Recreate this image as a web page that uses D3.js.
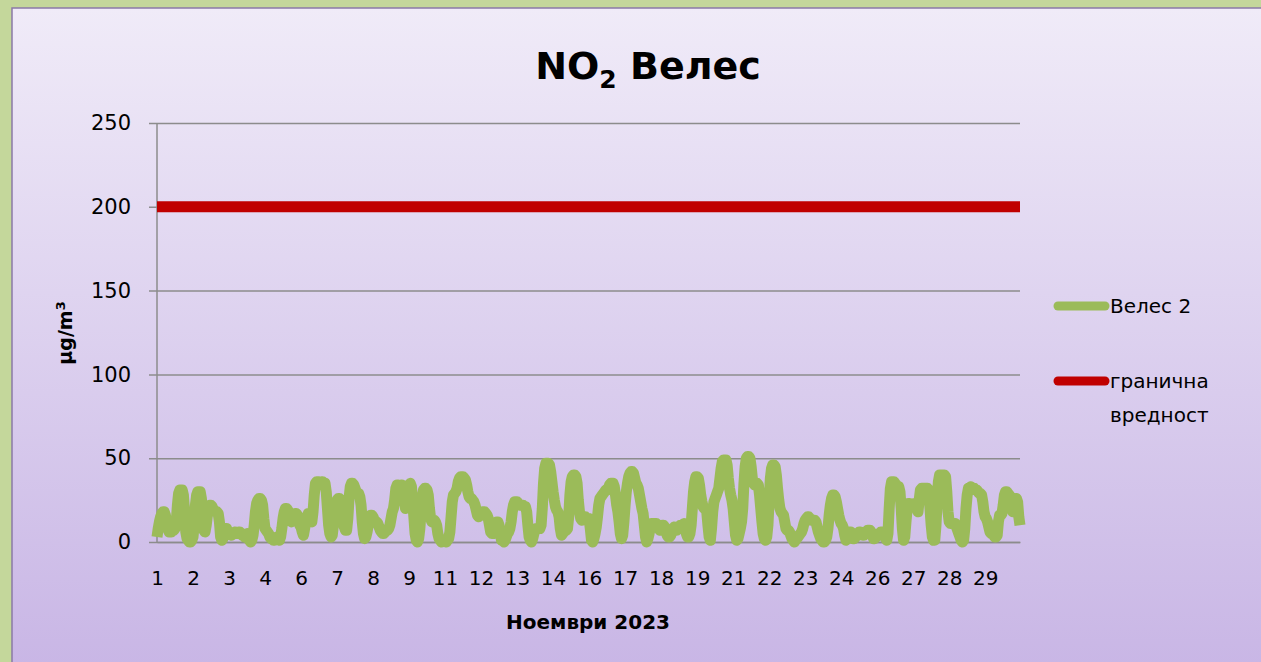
<!DOCTYPE html>
<html>
<head>
<meta charset="utf-8">
<script src="https://cdn.jsdelivr.net/npm/d3@7"></script>
<style>
  html, body { margin: 0; padding: 0; background: #c4d79b; }
  svg { display: block; }
  text { font-family: "Comic Sans MS", "DejaVu Sans", sans-serif; fill: #000; }
</style>
</head>
<body>
<svg id="chart" width="1261" height="662"></svg>
<script>
// hourly NO2, Велес 2, November 2023 (one row = one day, 24 hours)
var no2 = [
  3,8,12,15,17,18,18,16,12,8,6,6,6,7,7,8,12,22,29,31,31,31,28,18,
  6,2,1,0,0,1,3,10,22,28,30,30,30,26,15,7,6,10,16,20,22,22,21,19,
  19,18,18,17,12,3,1,2,6,8,8,6,5,5,4,5,5,6,5,5,6,6,5,4,
  4,3,4,5,3,1,0,1,4,10,18,23,25,26,26,25,22,14,8,7,6,5,3,2,
  2,1,1,2,3,2,1,3,8,14,18,20,20,19,16,14,12,13,15,17,17,16,12,10,
  9,6,4,8,12,15,17,17,15,12,18,28,35,36,36,36,35,36,36,35,35,30,20,10,
  5,3,4,10,18,23,25,26,26,25,22,15,9,7,7,14,26,33,35,35,34,32,30,29,
  29,27,22,12,5,2,3,6,10,14,16,16,15,13,12,12,11,9,7,6,5,5,6,7,
  7,8,10,14,18,20,25,32,34,34,33,33,34,30,25,20,22,30,34,35,33,25,15,5,
  1,0,2,8,18,26,31,32,32,31,28,20,14,12,13,13,12,10,5,2,1,0,1,1,
  1,0,1,2,6,15,24,28,29,30,32,36,38,39,39,39,38,37,34,30,27,26,26,25,
  24,22,19,16,15,16,17,18,18,18,17,16,14,10,6,5,5,7,10,12,12,10,5,1,
  2,0,1,3,5,6,8,12,18,22,24,24,24,23,22,22,22,22,21,21,18,10,3,1,
  0,2,5,7,8,8,8,8,10,20,35,44,47,47,47,46,42,36,30,25,21,19,18,15,
  8,4,5,6,7,7,8,15,28,36,39,40,40,39,35,25,18,14,13,14,15,15,14,13,
  14,8,1,0,2,5,9,15,22,26,27,28,29,30,31,31,32,34,35,35,35,33,28,22,
  18,12,5,2,4,12,22,30,35,39,41,42,42,41,38,35,34,32,28,24,20,17,10,3,
  0,2,5,9,11,11,11,11,11,10,8,7,8,10,10,9,7,4,3,3,4,6,8,9,
  7,7,8,9,10,10,10,11,9,5,3,3,5,10,20,30,36,39,39,38,34,28,24,21,
  20,20,18,10,3,1,8,18,24,26,28,30,32,38,44,48,49,49,49,46,38,32,28,25,
  20,12,4,1,2,5,8,12,20,35,45,50,51,51,50,45,38,35,34,35,35,34,28,20,
  12,5,2,1,3,10,25,38,44,46,46,45,40,32,25,20,18,17,16,12,8,7,7,6,
  4,2,1,0,1,2,3,4,5,6,8,11,13,14,15,15,14,13,13,13,13,12,9,6,
  4,2,1,0,0,1,3,8,16,22,26,28,28,27,24,20,16,13,11,10,8,4,1,2,
  5,6,6,4,2,2,3,4,5,6,6,5,4,4,5,6,7,7,7,6,4,2,2,3,
  4,4,5,6,6,6,4,2,1,5,20,32,36,36,36,35,34,33,33,30,20,8,1,3,
  12,20,23,23,22,22,22,23,23,20,18,25,31,32,32,32,32,32,32,31,20,10,3,1,
  1,10,25,36,40,40,40,40,40,39,30,18,12,11,11,11,11,11,9,7,5,3,1,0,
  1,8,20,28,32,32,33,32,32,32,31,31,30,29,29,28,24,18,15,14,12,9,6,5,
  5,4,3,3,4,12,16,16,17,22,28,30,30,29,28,27,22,18,20,25,26,24,15,10
];
var limit = 200;
var days = d3.range(1, 31);
var hoursPerDay = 24;
var xTickLabels = [1,2,3,4,6,7,8,9,11,12,13,14,16,17,18,19,21,22,23,24,26,27,28,29];
var labelEvery = 30;
var yTicks = [0, 50, 100, 150, 200, 250];
var seriesNames = ["Велес 2", "гранична вредност"];
var colors = ["#9bbb59", "#c00000"];

(function() {
    // category per hourly point = day of month
    var categories = [];
    days.forEach(function(d){ for (var h = 0; h < hoursPerDay; h++) categories.push(d); });

    var svg = d3.select("#chart");
    var defs = svg.append("defs");
    var grad = defs.append("linearGradient").attr("id", "bg").attr("x1", 0).attr("y1", 0).attr("x2", 0).attr("y2", 1);
    grad.append("stop").attr("offset", "0%").attr("stop-color", "#f0ebf8");
    grad.append("stop").attr("offset", "100%").attr("stop-color", "#c8b5e5");

    svg.append("rect").attr("x", 12).attr("y", 8).attr("width", 1262).attr("height", 670)
        .attr("fill", "url(#bg)").attr("stroke", "#8a7aa8").attr("stroke-width", 1.5);

    var pLeft = 157, pRight = 1020, pTop = 123, pBottom = 542;
    var x = d3.scalePoint().domain(d3.range(categories.length)).range([pLeft, pRight]);
    var y = d3.scaleLinear().domain([0, 250]).range([pBottom, pTop]);

    // gridlines + y axis
    var yAxis = d3.axisLeft(y).tickValues(yTicks).tickSize(-(pRight - pLeft)).tickPadding(26);
    var gy = svg.append("g").attr("transform", "translate(" + pLeft + ",0)").call(yAxis);
    gy.select(".domain").remove();
    gy.selectAll(".tick line").attr("stroke", "#8c8c8c").attr("stroke-width", 1.5).attr("x1", -8);
    gy.selectAll(".tick text").attr("font-size", 21).attr("fill", "#000");
    svg.append("line").attr("x1", pLeft).attr("x2", pLeft).attr("y1", pTop).attr("y2", pBottom)
        .attr("stroke", "#8c8c8c").attr("stroke-width", 1.5);

    // x axis
    var xAxis = d3.axisBottom(x)
        .tickValues(xTickLabels.map(function(d, k){ return k * labelEvery; }))
        .tickFormat(function(d, k){ return xTickLabels[k]; })
        .tickSize(0).tickPadding(29);
    var gx = svg.append("g").attr("transform", "translate(0," + pBottom + ")").call(xAxis);
    gx.select(".domain").attr("stroke", "#8c8c8c").attr("stroke-width", 1.5);
    gx.selectAll(".tick text").attr("font-size", 20).attr("fill", "#000");

    // series
    var line = d3.line().x(function(d, i){ return x(i); }).y(function(d){ return y(d); });
    svg.append("path").datum(no2).attr("d", line).attr("fill", "none")
        .attr("stroke", colors[0]).attr("stroke-width", 11)
        .attr("stroke-linejoin", "round");
    svg.append("path").datum([0, categories.length - 1])
        .attr("d", d3.line().x(function(d){ return x(d); }).y(function(){ return y(limit); }))
        .attr("fill", "none").attr("stroke", colors[1]).attr("stroke-width", 11);

    // title
    var title = svg.append("text").attr("x", 648).attr("y", 79).attr("text-anchor", "middle")
        .attr("font-size", 38).attr("font-weight", "bold");
    title.append("tspan").text("NO");
    title.append("tspan").attr("font-size", 25).attr("dy", 9).text("2");
    title.append("tspan").attr("dy", -9).text(" Велес");

    // axis titles
    var yt = svg.append("text").attr("transform", "translate(72,333) rotate(-90)").attr("text-anchor", "middle")
        .attr("font-size", 19).attr("font-weight", "bold");
    yt.append("tspan").text("μg/m");
    yt.append("tspan").attr("font-size", 13).attr("dy", -7).text("3");
    svg.append("text").attr("x", 588).attr("y", 629).attr("text-anchor", "middle")
        .attr("font-size", 20).attr("font-weight", "bold").text("Ноември 2023");

    // legend
    var lg = svg.append("g");
    [[306, [seriesNames[0]]], [381, ["гранична", "вредност"]]].forEach(function(item, k){
        lg.append("line").attr("x1", 1058).attr("x2", 1105).attr("y1", item[0]).attr("y2", item[0])
            .attr("stroke", colors[k]).attr("stroke-width", 9).attr("stroke-linecap", "round");
        item[1].forEach(function(t, j){
            lg.append("text").attr("x", 1110).attr("y", item[0] + 7 + j * 34).attr("font-size", 20).text(t);
        });
    });
}());
</script>
</body>
</html>
